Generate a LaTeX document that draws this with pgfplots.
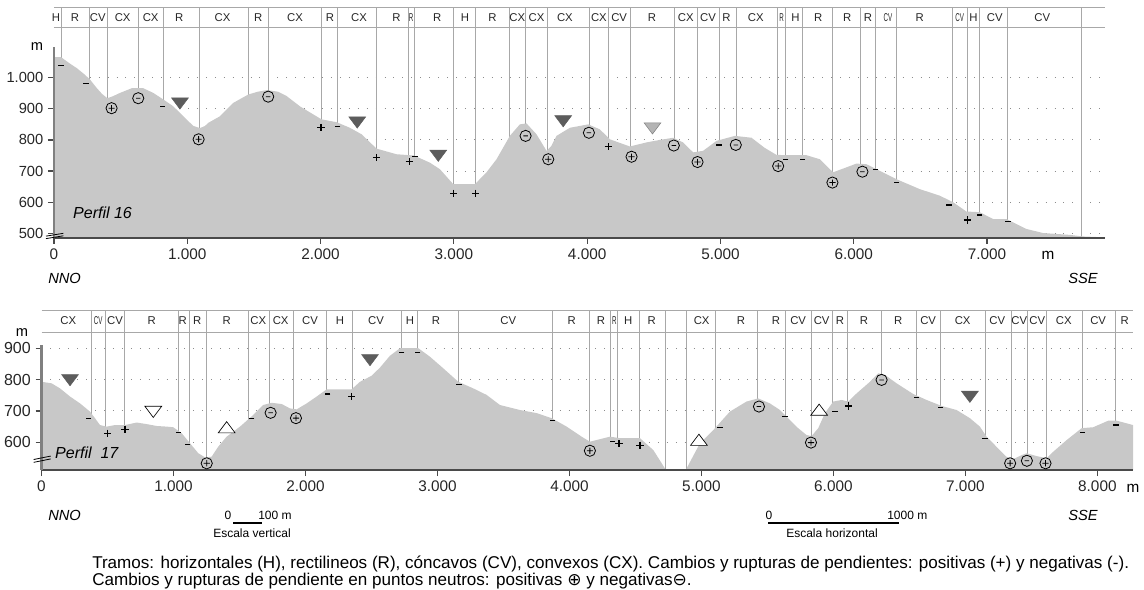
\documentclass[border=0pt]{standalone}
\usepackage{pgfplots}
\pgfplotsset{compat=1.18}
\usepackage{fontspec}
\setmainfont{Liberation Sans}
\newfontfamily\dejavu{DejaVu Sans}
\definecolor{prof}{HTML}{C8C8C8}
\definecolor{sepc}{HTML}{A8A8A8}
\definecolor{axc}{HTML}{4A4A4A}
\definecolor{tri}{HTML}{5C5C5C}
\definecolor{tril}{HTML}{B4B4B4}
\definecolor{gridc}{HTML}{8C8C8C}
\pgfdeclareplotmark{cplus}{%
  \pgfpathcircle{\pgfpointorigin}{\pgfplotmarksize}%
  \pgfpathmoveto{\pgfqpoint{-0.55\pgfplotmarksize}{0pt}}%
  \pgfpathlineto{\pgfqpoint{0.55\pgfplotmarksize}{0pt}}%
  \pgfpathmoveto{\pgfqpoint{0pt}{-0.55\pgfplotmarksize}}%
  \pgfpathlineto{\pgfqpoint{0pt}{0.55\pgfplotmarksize}}%
  \pgfusepathqstroke}
\pgfdeclareplotmark{cminus}{%
  \pgfpathcircle{\pgfpointorigin}{\pgfplotmarksize}%
  \pgfpathmoveto{\pgfqpoint{-0.4\pgfplotmarksize}{0pt}}%
  \pgfpathlineto{\pgfqpoint{0.4\pgfplotmarksize}{0pt}}%
  \pgfusepathqstroke}
\pgfplotsset{
  prof/.style={
    scale only axis, anchor=south west, clip mode=individual,
    axis line style={draw=none},
    xtick pos=left, ytick pos=left, tick align=outside,
    major tick length=4.5pt,
    tick style={line width=0.9pt, color=axc},
    xticklabel style={font=\fontsize{11.5}{13}\selectfont, text=black!85},
    ymajorgrids, major grid style={gridc, line width=0.7pt, dash pattern=on 0.7pt off 6pt},
  },
  mminus/.style={only marks, mark=-, mark size=2pt, line width=0.9pt, black},
  mplus/.style={only marks, mark=+, mark size=2.7pt, line width=0.9pt, black},
  mcplus/.style={only marks, mark=cplus, mark size=4.2pt, line width=0.6pt, black},
  mcminus/.style={only marks, mark=cminus, mark size=4.2pt, line width=0.6pt, black},
  mtri/.style={only marks, mark=triangle*, mark size=5.6pt, mark options={rotate=180, xscale=1.3, fill=tri, draw=tri, line width=0.4pt}},
  mtril/.style={only marks, mark=triangle*, mark size=5.6pt, mark options={rotate=180, xscale=1.3, fill=tril, draw=gray, line width=0.4pt}},
  mtriw/.style={only marks, mark=triangle*, mark size=5.6pt, mark options={rotate=180, xscale=1.3, fill=white, draw=black, line width=0.5pt}},
  mtriu/.style={only marks, mark=triangle*, mark size=5.6pt, mark options={xscale=1.3, fill=white, draw=black, line width=0.5pt}},
}
\tikzset{slab/.style={font=\fontsize{8.5}{10}\selectfont, inner sep=0pt, text=black!85},
  slabn/.style={font=\fontsize{8.5}{10}\selectfont, inner sep=0pt, xscale=0.55, text=black!85},
  sc/.style={font=\fontsize{9}{10}\selectfont, inner sep=0pt}}
\begin{document}
\begin{tikzpicture}
\useasboundingbox (0,0) rectangle (858pt,441.75pt);
% ================= TOP =================
\begin{axis}[prof, at={(40.5pt,263.25pt)}, width=788.25pt, height=173.25pt,
  xmin=0, xmax=7885, ymin=485, ymax=1227,
  yticklabel style={font=\fontsize{11}{13}\selectfont, text=black!85},
  xtick={0,1000,2000,3000,4000,5000,6000,7000},
  xticklabels={0,1.000,2.000,3.000,4.000,5.000,6.000,7.000},
  ytick={500,600,700,800,900,1000},
  yticklabels={500,600,700,800,900,1.000}]
\addplot[ycomb, sepc, line width=0.6pt] coordinates {
(52,1227)(262,1227)(400,1227)(635,1227)(820,1227)(1088,1227)(1457,1227)(1610,1227)
(2008,1227)(2128,1227)(2420,1227)(2657,1227)(2702,1227)(2995,1227)(3163,1227)(3415,1227)
(3540,1227)(3703,1227)(4015,1227)(4157,1227)(4328,1227)(4652,1227)(4825,1227)(4990,1227)
(5120,1227)(5428,1227)(5488,1227)(5612,1227)(5840,1227)(6050,1227)(6163,1227)(6320,1227)
(6737,1227)(6853,1227)(6945,1227)(7150,1227)(7708,1227)};
\addplot[fill=prof, draw=none] table {
x y
0 1066
52 1066
120 1045
170 1031
230 1010
270 994
320 967
360 948
400 934
440 940
495 951
583 966
670 966
745 951
820 930
895 908
970 876
1045 845
1095 838
1133 845
1158 855
1245 876
1345 919
1458 946
1530 955
1600 960
1680 955
1745 941
1845 908
1945 882
2008 866
2120 857
2220 839
2308 818
2420 772
2570 754
2700 750
2820 727
2895 706
2995 658
3158 658
3245 696
3320 738
3420 813
3495 850
3545 853
3620 818
3695 765
3730 780
3770 813
3870 839
4008 850
4095 834
4170 802
4320 779
4445 792
4545 800
4645 807
4720 792
4795 760
4870 765
4970 797
5108 813
5233 807
5330 775
5420 752
5495 751
5645 751
5745 738
5845 696
5908 706
6020 724
6095 722
6170 706
6320 674
6495 642
6645 621
6745 600
6845 570
6945 568
7045 546
7145 546
7295 514
7420 501
7620 495
7720 490
7885 487
} \closedcycle;
\draw[sepc, line width=0.6pt] (axis cs:0,1227) -- (axis cs:7885,1227);
\draw[sepc, line width=0.6pt] (axis cs:0,1160) -- (axis cs:7885,1160);
\draw[axc, line width=1.6pt] (axis cs:0,485) -- (axis cs:7885,485);
\draw[gray, line width=1.6pt] (axis cs:0,485) -- (axis cs:0,1100);
\draw[black, line width=0.6pt] (axis cs:-60,491) -- (axis cs:70,500);
\draw[black, line width=0.6pt] (axis cs:-60,483) -- (axis cs:70,492);
\foreach \x/\l in {15/H,158/R,328/CV,515/CX,725/CX,940/R,1265/CX,1532/R,1808/CX,2070/R,2288/CX,2570/R,
  2875/R,3083/H,3290/R,3475/CX,3620/CX,3833/CX,4088/CX,4240/CV,4487/R,4740/CX,4907/CV,5045/R,5265/CX,
  5563/H,5733/R,5950/R,6107/R,6495/R,6898/H,7058/CV,7415/CV}{%
  \edef\tmp{\noexpand\node[slab] at (axis cs:\x,1192) {\l};}\tmp}
\foreach \x/\l in {2680/R,5458/R,6257/CV,6795/CV}{%
  \edef\tmp{\noexpand\node[slabn] at (axis cs:\x,1192) {\l};}\tmp}
\addplot[mminus] coordinates {(52,1040)(240,982)(812,907)(2128,843)(2708,746)(4990,784)(5490,738)(5615,738)(6163,704)(6320,663)(6715,591)(6945,559)(7157,537)};
\addplot[mplus] coordinates {(2003,840)(2420,744)(2665,730)(3000,629)(3163,629)(4158,778)(6853,543)};
\addplot[mcplus] coordinates {(432,902)(1085,802)(3708,738)(4333,746)(4828,729)(5433,716)(5840,663)};
\addplot[mcminus] coordinates {(632,934)(1607,939)(3538,813)(4013,823)(4650,782)(5115,784)(6065,698)};
\addplot[mtri] coordinates {(945,923)(2275,862)(2883,755)(3820,866)};
\addplot[mtril] coordinates {(4490,843)};
\node[font=\fontsize{12}{14}\selectfont\itshape, anchor=west, inner sep=0pt] at (axis cs:142,565) {Perfil 16};
\node[font=\fontsize{11}{13}\selectfont] at (axis cs:-128,1100) {m};
\end{axis}
% ================= BOTTOM =================
\begin{axis}[prof, at={(31.125pt,89.25pt)}, width=818.625pt, height=120pt,
  xmin=0, xmax=8270, ymin=511.6, ymax=1022,
  yticklabel style={font=\fontsize{12}{14}\selectfont, text=black!85},
  xtick={0,1000,2000,3000,4000,5000,6000,7000,8000},
  xticklabels={0,1.000,2.000,3.000,4.000,5.000,6.000,7.000,8.000},
  ytick={600,700,800,900},
  yticklabels={600,700,800,900}]
\addplot[ycomb, sepc, line width=0.6pt] coordinates {
(375,1022)(483,1022)(627,1022)(1036,1022)(1117,1022)(1252,1022)(1567,1022)(1726,1022)
(1908,1022)(2161,1022)(2358,1022)(2729,1022)(2850,1022)(3158,1022)(3870,1022)(4155,1022)
(4314,1022)(4365,1022)(4529,1022)(4729,1022)(4888,1022)(5108,1022)(5426,1022)(5633,1022)
(5830,1022)(5994,1022)(6108,1022)(6365,1022)(6630,1022)(6812,1022)(7153,1022)(7345,1022)
(7471,1022)(7615,1022)(7885,1022)(8140,1022)};
\addplot[fill=prof, draw=none] table {
x y
0 793
77 788
140 772
216 746
292 724
367 698
405 677
443 655
494 650
557 655
633 655
721 663
797 658
873 652
948 650
998 648
1062 629
1125 597
1188 565
1239 552
1289 554
1339 586
1403 618
1504 650
1604 687
1680 719
1744 726
1820 722
1883 708
1933 705
2009 724
2085 746
2161 769
2350 769
2413 793
2500 812
2564 838
2640 876
2716 900
2855 900
2943 873
3044 836
3158 793
3271 772
3373 751
3473 719
3625 703
3752 693
3865 677
3979 650
4092 618
4155 602
4231 610
4307 618
4383 613
4535 613
4636 575
4723 517
4740 500
4880 500
4888 517
4989 597
5090 639
5216 698
5342 730
5430 740
5519 724
5595 703
5670 671
5733 645
5797 623
5835 620
5885 645
5936 693
5999 730
6062 735
6112 730
6176 756
6277 793
6340 820
6390 815
6479 788
6605 754
6706 735
6820 716
6933 703
7034 677
7110 650
7160 618
7235 586
7311 554
7361 546
7426 559
7464 565
7540 556
7616 549
7666 570
7767 607
7881 645
7968 648
8083 669
8146 669
8270 655
} \closedcycle;
\draw[sepc, line width=0.6pt] (axis cs:0,1022) -- (axis cs:8270,1022);
\draw[sepc, line width=0.6pt] (axis cs:0,952) -- (axis cs:8270,952);
\draw[axc, line width=1.6pt] (axis cs:0,511.6) -- (axis cs:8270,511.6);
\draw[gray, line width=1.6pt] (axis cs:0,511.6) -- (axis cs:0,910);
\draw[black, line width=0.6pt] (axis cs:-60,545) -- (axis cs:70,556);
\draw[black, line width=0.6pt] (axis cs:-60,536) -- (axis cs:70,547);
\foreach \x/\l in {203/CX,557/CV,835/R,1070/R,1180/R,1403/R,1642/CX,1812/CX,2034/CV,2261/H,2534/CV,
  2792/H,2989/R,3536/CV,4017/R,4239/R,4445/H,4623/R,5002/CX,5299/R,5564/R,5733/CV,5911/CV,6049/R,
  6231/R,6491/R,6718/CV,6979/CX,7241/CV,7408/CV,7544/CV,7746/CX,8006/CV,8208/R}{%
  \edef\tmp{\noexpand\node[slab] at (axis cs:\x,987) {\l};}\tmp}
\foreach \x/\l in {430/CV,4340/R}{%
  \edef\tmp{\noexpand\node[slabn] at (axis cs:\x,987) {\l};}\tmp}
\addplot[mminus] coordinates {(355,677)(1036,631)(1108,594)(1592,677)(2168,754)(2729,887)(2850,887)(3163,785)(3870,669)(4327,602)(5140,648)(5633,682)(6011,698)(6630,742)(6812,712)(7148,613)(7885,631)(8140,655)};
\addplot[mplus] coordinates {(502,629)(633,642)(2350,746)(4375,595)(4534,591)(6117,716)};
\addplot[mcplus] coordinates {(1252,533)(1928,677)(4155,573)(5830,599)(7339,533)(7607,533)};
\addplot[mcminus] coordinates {(1736,694)(5436,714)(6365,799)(7466,541)};
\addplot[mtri] coordinates {(216,804)(2489,868)(7034,751)};
\addplot[mtriw] coordinates {(847,703)};
\addplot[mtriu] coordinates {(1403,642)(4981,602)(5892,698)};
\node[font=\fontsize{12}{14}\selectfont\itshape, anchor=west, inner sep=0pt] at (axis cs:102,566) {Perfil\ \ 17};
\node[font=\fontsize{11}{13}\selectfont] at (axis cs:-148,949) {m};
\end{axis}
% ================= annotations =================
\node[font=\fontsize{11.5}{13}\selectfont] at (786pt,250.5pt) {m};
\node[font=\fontsize{11.5}{13}\selectfont] at (849.75pt,75.75pt) {m};
\node[font=\fontsize{11}{12}\selectfont\itshape, anchor=west, inner sep=0pt] at (36pt,233.25pt) {NNO};
\node[font=\fontsize{11}{12}\selectfont\itshape, anchor=east, inner sep=0pt] at (823.5pt,233.25pt) {SSE};
\node[font=\fontsize{11}{12}\selectfont\itshape, anchor=west, inner sep=0pt] at (36pt,55.5pt) {NNO};
\node[font=\fontsize{11}{12}\selectfont\itshape, anchor=east, inner sep=0pt] at (823.5pt,55.5pt) {SSE};
% scale bars
\node[sc] at (171pt,55.5pt) {0};
\draw[black, line width=1.4pt] (174.75pt,49.5pt) -- (196.5pt,49.5pt);
\node[sc, anchor=west] at (193.5pt,55.5pt) {100 m};
\node[sc] at (189pt,42pt) {Escala vertical};
\node[sc] at (576.75pt,55.5pt) {0};
\draw[black, line width=1.4pt] (576pt,49.5pt) -- (674.25pt,49.5pt);
\node[sc, anchor=west] at (665.25pt,55.5pt) {1000 m};
\node[sc] at (624pt,42pt) {Escala horizontal};
% caption
\node[font=\fontsize{12.8}{14}\selectfont, anchor=base west, inner sep=0pt] at (69pt,15.6pt) {Tramos: horizontales (H), rectilineos (R), cóncavos (CV), convexos (CX). Cambios y rupturas de pendientes: positivas (+) y negativas (-).};
\node[font=\fontsize{12.8}{14}\selectfont, anchor=base west, inner sep=0pt] at (69pt,2.6pt) {Cambios y rupturas de pendiente en puntos neutros: positivas {\dejavu ⊕} y negativas{\dejavu ⊖}.};
\end{tikzpicture}
\end{document}
